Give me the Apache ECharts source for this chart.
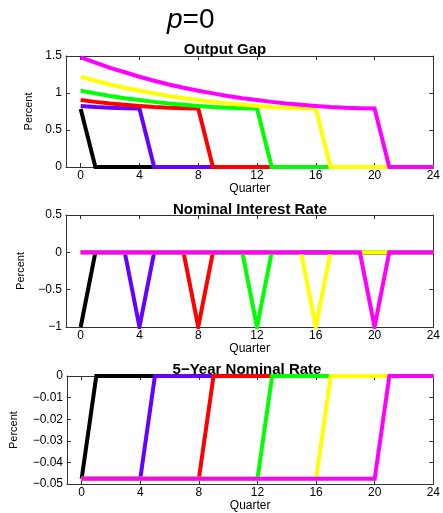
<!DOCTYPE html>
<html>
<head>
<meta charset="utf-8">
<script src="https://cdn.jsdelivr.net/npm/echarts@6/dist/echarts.min.js"></script>
<style>html,body{margin:0;padding:0;background:#fff;}#c{width:443px;height:513px;}</style>
</head>
<body>
<div id="c"></div>
<script>
const quarters = [0,1,2,3,4,5,6,7,8,9,10,11,12,13,14,15,16,17,18,19,20,21,22,23,24];
const xTicks = [0,4,8,12,16,20,24];
const seriesNames = ['k=0','k=4','k=8','k=12','k=16','k=20'];
const seriesColors = ['#000000','#6600ff','#ff0000','#00ff00','#ffff00','#ff00ff'];

// Output Gap
const gapBlack   = [0.785,0,0,0,0,0,0,0,0,0,0,0,0,0,0,0,0,0,0,0,0,0,0,0,0];
const gapPurple  = [0.825,0.81,0.80,0.795,0.79,0,0,0,0,0,0,0,0,0,0,0,0,0,0,0,0,0,0,0,0];
const gapRed     = [0.905,0.88,0.857,0.84,0.825,0.81,0.80,0.795,0.79,0,0,0,0,0,0,0,0,0,0,0,0,0,0,0,0];
const gapGreen   = [1.03,0.995,0.96,0.93,0.905,0.88,0.857,0.84,0.825,0.81,0.80,0.795,0.79,0,0,0,0,0,0,0,0,0,0,0,0];
const gapYellow  = [1.22,1.165,1.115,1.07,1.03,0.995,0.96,0.93,0.905,0.88,0.857,0.84,0.825,0.81,0.80,0.795,0.79,0,0,0,0,0,0,0,0];
const gapMagenta = [1.48,1.41,1.34,1.28,1.22,1.165,1.115,1.07,1.03,0.995,0.96,0.93,0.905,0.88,0.857,0.84,0.825,0.81,0.80,0.795,0.79,0,0,0,0];

// Nominal Interest Rate
const rateBlack   = [-1,0,0,0,0,0,0,0,0,0,0,0,0,0,0,0,0,0,0,0,0,0,0,0,0];
const ratePurple  = [0,0,0,0,-1,0,0,0,0,0,0,0,0,0,0,0,0,0,0,0,0,0,0,0,0];
const rateRed     = [0,0,0,0,0,0,0,0,-1,0,0,0,0,0,0,0,0,0,0,0,0,0,0,0,0];
const rateGreen   = [0,0,0,0,0,0,0,0,0,0,0,0,-1,0,0,0,0,0,0,0,0,0,0,0,0];
const rateYellow  = [0,0,0,0,0,0,0,0,0,0,0,0,0,0,0,0,-1,0,0,0,0,0,0,0,0];
const rateMagenta = [0,0,0,0,0,0,0,0,0,0,0,0,0,0,0,0,0,0,0,0,-1,0,0,0,0];

// 5-Year Nominal Rate
const fiveBlack   = [-0.0475,0,0,0,0,0,0,0,0,0,0,0,0,0,0,0,0,0,0,0,0,0,0,0,0];
const fivePurple  = [-0.0475,-0.0475,-0.0475,-0.0475,-0.0475,0,0,0,0,0,0,0,0,0,0,0,0,0,0,0,0,0,0,0,0];
const fiveRed     = [-0.0475,-0.0475,-0.0475,-0.0475,-0.0475,-0.0475,-0.0475,-0.0475,-0.0475,0,0,0,0,0,0,0,0,0,0,0,0,0,0,0,0];
const fiveGreen   = [-0.0475,-0.0475,-0.0475,-0.0475,-0.0475,-0.0475,-0.0475,-0.0475,-0.0475,-0.0475,-0.0475,-0.0475,-0.0475,0,0,0,0,0,0,0,0,0,0,0,0];
const fiveYellow  = [-0.0475,-0.0475,-0.0475,-0.0475,-0.0475,-0.0475,-0.0475,-0.0475,-0.0475,-0.0475,-0.0475,-0.0475,-0.0475,-0.0475,-0.0475,-0.0475,-0.0475,0,0,0,0,0,0,0,0];
const fiveMagenta = [-0.0475,-0.0475,-0.0475,-0.0475,-0.0475,-0.0475,-0.0475,-0.0475,-0.0475,-0.0475,-0.0475,-0.0475,-0.0475,-0.0475,-0.0475,-0.0475,-0.0475,-0.0475,-0.0475,-0.0475,-0.0475,0,0,0,0];

const panels = [
  {title:'Output Gap', titleX:225, titleTop:42, top:56, height:111, ymin:0, ymax:1.5, yint:0.5, nameGap:31,
   data:[gapBlack,gapPurple,gapRed,gapGreen,gapYellow,gapMagenta]},
  {title:'Nominal Interest Rate', titleX:250, titleTop:202, top:215, height:112, ymin:-1, ymax:0.5, yint:0.5, nameGap:40,
   data:[rateBlack,ratePurple,rateRed,rateGreen,rateYellow,rateMagenta]},
  {title:'5\u2212Year Nominal Rate', titleX:247, titleTop:362, top:376, height:111, ymin:-0.05, ymax:0, yint:0.01, nameGap:48,
   data:[fiveBlack,fivePurple,fiveRed,fiveGreen,fiveYellow,fiveMagenta]}
];

const FONT = 'Liberation Sans';
const lineCol = '#333';
const fmt = v => (Math.round(v*1000)/1000).toString().replace('-', '\u2212');

const grid = [], xAxis = [], yAxis = [], series = [], title = [];
title.push({
  text:'{i|p}{n|=0}', left:167, top:6, padding:0,
  textStyle:{fontWeight:'normal',rich:{
    i:{fontFamily:FONT,fontSize:28,fontStyle:'italic',fontWeight:'normal',color:'#000'},
    n:{fontFamily:FONT,fontSize:28,fontWeight:'normal',color:'#000'}}}
});
panels.forEach((p, gi) => {
  grid.push({left:66, width:369, top:p.top, height:p.height, containLabel:false});
  title.push({text:p.title, left:p.titleX, textAlign:'center', top:p.titleTop, padding:0,
    textStyle:{fontFamily:FONT,fontSize:15,fontWeight:'bold',color:'#000'}});
  const xb = {
    type:'value', gridIndex:gi, min:-1, max:24, position:'bottom',
    name:'Quarter', nameLocation:'middle', nameGap:14,
    nameTextStyle:{fontFamily:FONT,fontSize:12,color:'#000'},
    axisLine:{show:true,onZero:false,lineStyle:{color:lineCol,width:1}},
    axisTick:{show:true,inside:true,length:4,customValues:xTicks,lineStyle:{color:lineCol}},
    axisLabel:{show:true,margin:3,customValues:xTicks,fontFamily:FONT,fontSize:12,color:'#000'},
    splitLine:{show:false}
  };
  const xt = {
    type:'value', gridIndex:gi, min:-1, max:24, position:'top',
    axisLine:{show:true,onZero:false,lineStyle:{color:lineCol,width:1}},
    axisTick:{show:true,inside:true,length:4,customValues:xTicks,lineStyle:{color:lineCol}},
    axisLabel:{show:false}, splitLine:{show:false}
  };
  xAxis.push(xb, xt);
  const yl = {
    type:'value', gridIndex:gi, min:p.ymin, max:p.ymax, interval:p.yint, position:'left',
    name:'Percent', nameLocation:'middle', nameGap:p.nameGap, nameRotate:90,
    nameTextStyle:{fontFamily:FONT,fontSize:11,color:'#000'},
    axisLine:{show:true,onZero:false,lineStyle:{color:lineCol,width:1}},
    axisTick:{show:true,inside:true,length:4,lineStyle:{color:lineCol}},
    axisLabel:{show:true,margin:4,formatter:fmt,fontFamily:FONT,fontSize:12,color:'#000'},
    splitLine:{show:false}
  };
  const yr = {
    type:'value', gridIndex:gi, min:p.ymin, max:p.ymax, interval:p.yint, position:'right',
    axisLine:{show:true,onZero:false,lineStyle:{color:lineCol,width:1}},
    axisTick:{show:true,inside:true,length:4,lineStyle:{color:lineCol}},
    axisLabel:{show:false}, splitLine:{show:false}
  };
  yAxis.push(yl, yr);
  p.data.forEach((arr, si) => {
    series.push({
      type:'line', name:seriesNames[si], xAxisIndex:gi*2, yAxisIndex:gi*2,
      data:quarters.map((q,i)=>[q,arr[i]]),
      showSymbol:false, symbol:'none', animation:false, clip:true,
      lineStyle:{color:seriesColors[si], width:4, join:'miter'},
      itemStyle:{color:seriesColors[si]}, z:2+si
    });
  });
});

const chart = echarts.init(document.getElementById('c'), null, {renderer:'canvas'});
chart.setOption({animation:false, backgroundColor:'#fff', title, grid, xAxis, yAxis, series});
</script>
</body>
</html>
